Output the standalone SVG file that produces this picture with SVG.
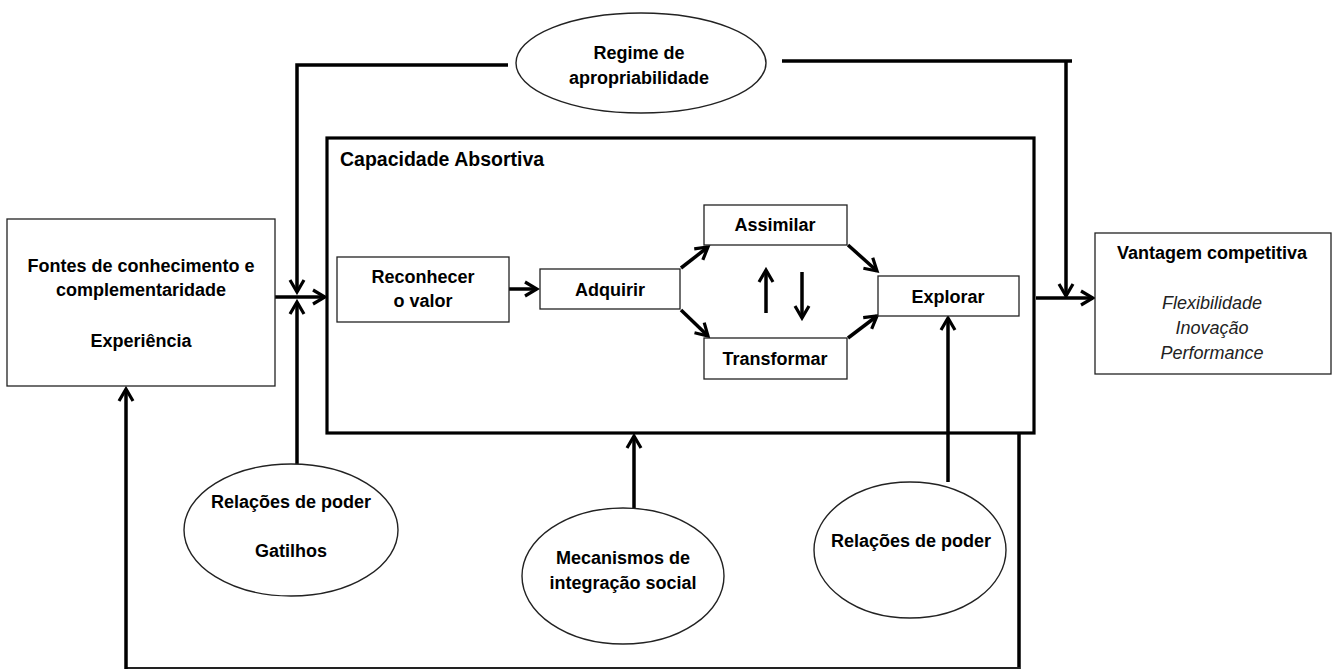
<svg xmlns="http://www.w3.org/2000/svg" width="1334" height="670" viewBox="0 0 1334 670">
<style>
.bg{fill:#fff}
.box{fill:#fff;stroke:#222;stroke-width:1.3}
.big{fill:none;stroke:#000;stroke-width:3.2}
.ell{fill:#fff;stroke:#222;stroke-width:1.4}
.c{fill:none;stroke:#000;stroke-width:3.5}
.thin{fill:none;stroke:#222;stroke-width:2.2}
.t{font-family:"Liberation Sans",Arial,sans-serif;font-weight:bold;font-size:18px;fill:#000;text-anchor:middle}
.tl{font-family:"Liberation Sans",Arial,sans-serif;font-weight:bold;font-size:19.5px;fill:#000}
.ti{font-family:"Liberation Sans",Arial,sans-serif;font-style:italic;font-size:18px;fill:#222;text-anchor:middle}
</style>
<defs>
<marker id="ah" markerUnits="userSpaceOnUse" markerWidth="18" markerHeight="18" viewBox="0 0 18 18" refX="15" refY="9" orient="auto">
<path d="M3,2 L15,9 L3,16" fill="none" stroke="#000" stroke-width="3.2" stroke-linejoin="miter"/>
</marker>
</defs>
<rect class="bg" x="0" y="0" width="1334" height="670"/>

<g id="connectors">
<line class="c" x1="275" y1="297" x2="325" y2="297" marker-end="url(#ah)"/>
<polyline class="c" points="508,65 297,65 297,292" marker-end="url(#ah)"/>
<line class="c" x1="297" y1="464" x2="297" y2="302" marker-end="url(#ah)"/>
<line class="c" x1="509" y1="289" x2="537" y2="289" marker-end="url(#ah)"/>
<line class="c" x1="681" y1="268" x2="708" y2="247" marker-end="url(#ah)"/>
<line class="c" x1="681" y1="310" x2="708" y2="336" marker-end="url(#ah)"/>
<line class="c" x1="848" y1="245" x2="877" y2="271" marker-end="url(#ah)"/>
<line class="c" x1="848" y1="338" x2="877" y2="316" marker-end="url(#ah)"/>
<line class="c" x1="766" y1="313" x2="766" y2="270" marker-end="url(#ah)"/>
<line class="c" x1="802" y1="272" x2="802" y2="318" marker-end="url(#ah)"/>
<line class="c" x1="948" y1="482" x2="948" y2="318" marker-end="url(#ah)"/>
<line class="c" x1="634" y1="508" x2="634" y2="436" marker-end="url(#ah)"/>
<line class="c" x1="1036" y1="298" x2="1093" y2="298" marker-end="url(#ah)"/>
<line class="c" x1="782" y1="61" x2="1072" y2="61"/>
<line class="c" x1="1066" y1="61" x2="1066" y2="296" marker-end="url(#ah)"/>
<line class="c" x1="1019" y1="433" x2="1019" y2="669"/>
<line class="thin" x1="1020" y1="668" x2="125" y2="668"/>
<line class="c" x1="126" y1="669" x2="126" y2="389" marker-end="url(#ah)"/>
</g>

<g id="fontes">
<rect class="box" x="7" y="219" width="268" height="167"/>
<text class="t" x="141" y="272">Fontes de conhecimento e</text>
<text class="t" x="141" y="296">complementaridade</text>
<text class="t" x="141" y="347">Experiência</text>
</g>

<g id="capacidade">
<rect class="big" x="327" y="138" width="707" height="295"/>
<text class="tl" x="340" y="166">Capacidade Absortiva</text>
</g>

<g id="reconhecer">
<rect class="box" x="337" y="257" width="172" height="65"/>
<text class="t" x="423" y="283">Reconhecer</text>
<text class="t" x="423" y="307">o valor</text>
</g>

<g id="adquirir">
<rect class="box" x="540" y="269" width="140" height="40"/>
<text class="t" x="610" y="296">Adquirir</text>
</g>

<g id="assimilar">
<rect class="box" x="704" y="205" width="143" height="40"/>
<text class="t" x="775" y="231">Assimilar</text>
</g>

<g id="transformar">
<rect class="box" x="704" y="338" width="143" height="41"/>
<text class="t" x="775" y="365">Transformar</text>
</g>

<g id="explorar">
<rect class="box" x="878" y="276" width="141" height="40"/>
<text class="t" x="948" y="303">Explorar</text>
</g>

<g id="vantagem">
<rect class="box" x="1095" y="233" width="236" height="141"/>
<text class="t" x="1212" y="259">Vantagem competitiva</text>
<text class="ti" x="1212" y="309">Flexibilidade</text>
<text class="ti" x="1212" y="334">Inovação</text>
<text class="ti" x="1212" y="359">Performance</text>
</g>

<g id="regime">
<ellipse class="ell" cx="641" cy="63" rx="125" ry="50"/>
<text class="t" x="639" y="59">Regime de</text>
<text class="t" x="639" y="84">apropriabilidade</text>
</g>

<g id="relacoes-gatilhos">
<ellipse class="ell" cx="291" cy="530" rx="107" ry="66"/>
<text class="t" x="291" y="508">Relações de poder</text>
<text class="t" x="291" y="557">Gatilhos</text>
</g>

<g id="mecanismos">
<ellipse class="ell" cx="623" cy="576" rx="101" ry="68"/>
<text class="t" x="623" y="564">Mecanismos de</text>
<text class="t" x="623" y="589">integração social</text>
</g>

<g id="relacoes-poder">
<ellipse class="ell" cx="910" cy="550" rx="96" ry="68"/>
<text class="t" x="911" y="547">Relações de poder</text>
</g>
</svg>
